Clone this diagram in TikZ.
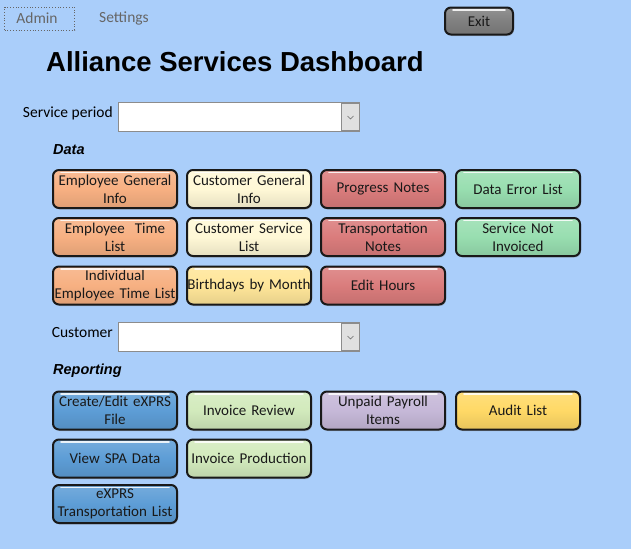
\documentclass[tikz,border=0pt]{standalone}
\usepackage{fontspec}
\setmainfont{Carlito}
\newfontfamily\arialfont{Liberation Sans}
\usetikzlibrary{shadows}
\definecolor{bgblue}{RGB}{170,206,250}
\definecolor{cOrange}{RGB}{247,176,130}
\definecolor{cCream}{RGB}{255,248,214}
\definecolor{cYellowL}{RGB}{255,230,153}
\definecolor{cRed}{RGB}{218,124,124}
\definecolor{cGreen}{RGB}{152,222,176}
\definecolor{cBlue}{RGB}{93,157,214}
\definecolor{cLGreen}{RGB}{210,234,188}
\definecolor{cLav}{RGB}{198,184,216}
\definecolor{cYellow}{RGB}{255,217,102}
\definecolor{cGray}{RGB}{128,128,128}
\newcommand\btnhl[1]{\draw[white, line width=1.6pt, opacity=.85, line cap=round] ([xshift=9pt,yshift=-3.5pt]#1.north west) -- ([xshift=-9pt,yshift=-3.5pt]#1.north east);}
\tikzset{
  btn/.style={draw=black!90, line width=2pt, rounded corners=6pt,
    minimum width=124pt, minimum height=38pt, text width=124pt, align=center,
    inner sep=0pt, font=\fontsize{15}{18}\selectfont, text=black!90,
    top color=#1!85!white, bottom color=#1!90!black, middle color=#1,
    drop shadow={shadow xshift=1pt, shadow yshift=-1.5pt, opacity=.35}},
  lbl/.style={font=\fontsize{15.5}{18}\selectfont, inner sep=0pt},
  sect/.style={font=\arialfont\bfseries\itshape\fontsize{14.5}{17}\selectfont, anchor=west, inner sep=0pt},
  combo/.style={draw=black!45, fill=white, minimum width=241pt, minimum height=29pt, inner sep=0pt, line width=0.8pt},
  ddbtn/.style={draw=black!45, fill=black!12, minimum width=18pt, minimum height=27pt, inner sep=0pt, line width=0.6pt},
  tab/.style={font=\fontsize{15.5}{18}\selectfont, text=black!60, inner sep=0pt},
}
\begin{document}
\begin{tikzpicture}[x=1pt,y=-1pt]
\fill[bgblue] (0,0) rectangle (631,549);
\useasboundingbox (0,0) rectangle (631,549);

% top tabs
\node[draw=black!60, dotted, line width=0.8pt, minimum width=70pt, minimum height=23pt, inner sep=0pt] (admbox) at (39.5,18.5) {};
\node[tab] (admin) at (37,18.5) {Admin};
\node[tab] (settings) at (124,18.5) {Settings};

% exit
\node[btn=cGray, minimum width=68pt, minimum height=27pt, text width=60pt, rounded corners=6pt] (exit) at (479,21) {Exit};
\btnhl{exit}

% title
\node[font=\arialfont\bfseries\fontsize{27.5}{30}\selectfont, anchor=base west, inner sep=0pt] (title) at (46,71) {Alliance Services Dashboard};

% service period
\node[lbl, anchor=east] (splbl) at (113,113) {Service period};
\node[combo, anchor=west] (sp) at (118,117) {};
\node[ddbtn, anchor=east] (spdd) at (sp.east) {};
\draw[black!60, line width=0.6pt] ([xshift=-3pt,yshift=1pt]spdd.center) -- ([yshift=-2pt]spdd.center) -- ([xshift=3pt,yshift=1pt]spdd.center);

% Data
\node[sect] (data) at (53,150) {Data};

\node[btn=cOrange] (eg) at (115,189) {Employee General\\Info};
\node[btn=cCream] (cg) at (249,189) {Customer General\\Info};
\node[btn=cRed] (pn) at (383,189) {Progress Notes};
\node[btn=cGreen] (de) at (518,189) {Data Error List};

\node[btn=cOrange] (et) at (115,237) {Employee~ Time\\List};
\node[btn=cCream] (cs) at (249,237) {Customer Service\\List};
\node[btn=cRed] (tn) at (383,237) {Transportation\\Notes};
\node[btn=cGreen] (sn) at (518,237) {Service Not\\Invoiced};

\node[btn=cOrange] (ie) at (115,285.5) {Individual\\Employee Time List};
\node[btn=cYellowL] (bm) at (249,285.5) {Birthdays by Month};
\node[btn=cRed] (eh) at (383,285.5) {Edit Hours};

\foreach \n in {eg,cg,pn,de,et,cs,tn,sn,ie,bm,eh} {\btnhl{\n}}

% customer
\node[lbl, anchor=east] (custlbl) at (113,333) {Customer};
\node[combo, anchor=west] (cust) at (118,337) {};
\node[ddbtn, anchor=east] (custdd) at (cust.east) {};
\draw[black!60, line width=0.6pt] ([xshift=-3pt,yshift=1pt]custdd.center) -- ([yshift=-2pt]custdd.center) -- ([xshift=3pt,yshift=1pt]custdd.center);

% Reporting
\node[sect] (rep) at (53,371) {Reporting};

\node[btn=cBlue] (ce) at (115,410.5) {Create/Edit eXPRS\\File};
\node[btn=cLGreen] (ir) at (249,410.5) {Invoice Review};
\node[btn=cLav] (up) at (383,410.5) {Unpaid Payroll\\Items};
\node[btn=cYellow] (al) at (518,410.5) {Audit List};

\node[btn=cBlue] (vs) at (115,458.5) {View SPA Data};
\node[btn=cLGreen] (ip) at (249,458.5) {Invoice Production};

\node[btn=cBlue] (xt) at (115,504) {eXPRS\\Transportation List};

\foreach \n in {ce,ir,up,al,vs,ip,xt} {\btnhl{\n}}
\end{tikzpicture}
\end{document}
